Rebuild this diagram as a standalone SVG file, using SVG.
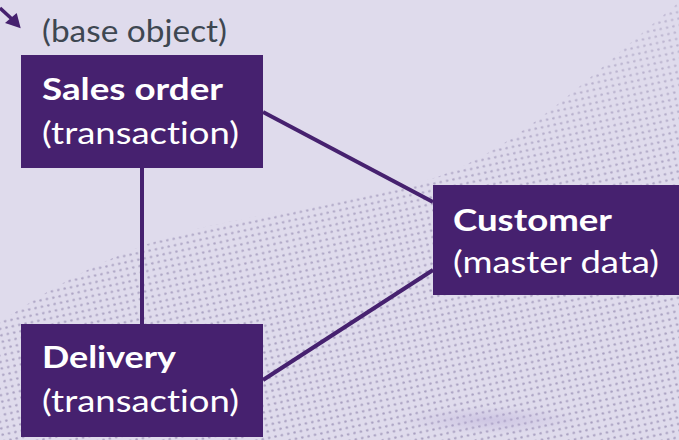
<svg xmlns="http://www.w3.org/2000/svg" width="679" height="440" viewBox="0 0 679 440">
<defs>
<style>
.box{fill:#46216f}
.t{font-family:"Source Sans Pro","Lato","Noto Sans",sans-serif;font-size:31px;fill:#ffffff;font-variant-ligatures:none;font-feature-settings:"liga" 0}
.b{font-weight:700}
.g{fill:#3e4751}
.ln{stroke:#46216f;stroke-width:4;fill:none}
</style>
<pattern id="dots" width="6.5" height="6.5" patternUnits="userSpaceOnUse" patternTransform="rotate(-12)">
<circle cx="3.25" cy="3.25" r="1.25" fill="#a79ebf"/>
</pattern>
<linearGradient id="fade" x1="0" y1="0" x2="0.25" y2="1">
<stop offset="0" stop-color="#fff" stop-opacity="0.35"/>
<stop offset="0.6" stop-color="#fff" stop-opacity="0.9"/>
<stop offset="1" stop-color="#fff" stop-opacity="1"/>
</linearGradient>
<mask id="m">
<path d="M0,322 C60,282 120,248 200,228 C300,206 380,196 440,176 C520,146 585,80 679,2 L679,440 L0,440 Z" fill="url(#fade)"/>
</mask>
<radialGradient id="fold" cx="0.5" cy="0.5" r="0.5">
<stop offset="0" stop-color="#b9acd8" stop-opacity="0.45"/>
<stop offset="1" stop-color="#b9acd8" stop-opacity="0"/>
</radialGradient>
</defs>
<rect width="679" height="440" fill="#dfdbec"/>
<g id="background-dots">
<rect width="679" height="440" fill="url(#dots)" mask="url(#m)"/>
<ellipse cx="490" cy="420" rx="90" ry="14" fill="url(#fold)"/>
</g>
<g id="base-arrow">
<line x1="0" y1="8" x2="13" y2="20" stroke="#46216f" stroke-width="3.5"/>
<path d="M20.7,28.3 L5,23 L16.7,13 Z" fill="#46216f"/>
</g>
<text class="t g" x="42" y="42" textLength="185" lengthAdjust="spacingAndGlyphs">(base object)</text>
<g id="connectors">
<line class="ln" x1="142" y1="168" x2="142" y2="324"/>
<line class="ln" x1="263" y1="112" x2="433" y2="202"/>
<line class="ln" x1="263" y1="380" x2="433" y2="270"/>
</g>
<g id="sales-order">
<rect class="box" x="21" y="55" width="242" height="113"/>
<text class="t b" x="42" y="100" textLength="181" lengthAdjust="spacingAndGlyphs">Sales order</text>
<text class="t" x="42" y="144" textLength="197" lengthAdjust="spacingAndGlyphs">(transaction)</text>
</g>
<g id="customer">
<rect class="box" x="433" y="185" width="246" height="110"/>
<text class="t b" x="453" y="231" textLength="159" lengthAdjust="spacingAndGlyphs">Customer</text>
<text class="t" x="453" y="273" textLength="206" lengthAdjust="spacingAndGlyphs">(master data)</text>
</g>
<g id="delivery">
<rect class="box" x="21" y="324" width="242" height="113"/>
<text class="t b" x="42" y="368" textLength="134" lengthAdjust="spacingAndGlyphs">Delivery</text>
<text class="t" x="42" y="412" textLength="197" lengthAdjust="spacingAndGlyphs">(transaction)</text>
</g>
</svg>
